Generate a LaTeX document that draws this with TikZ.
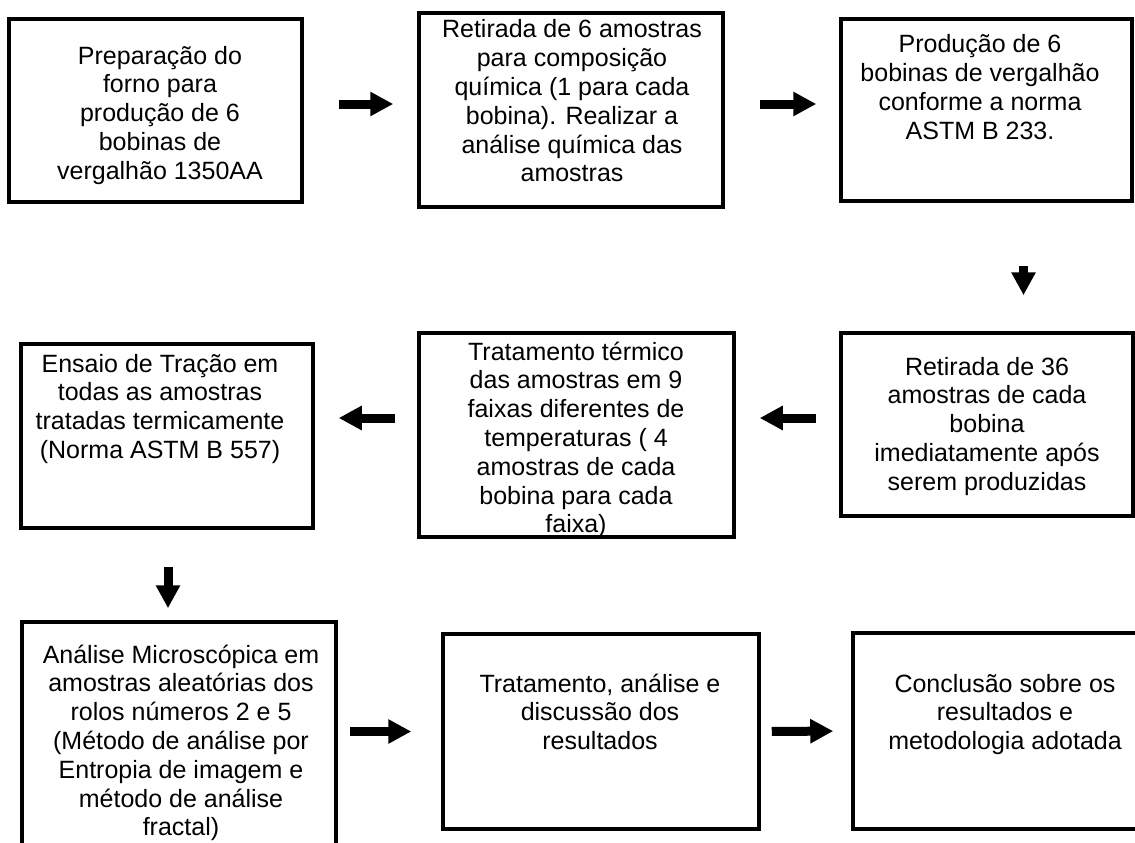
\documentclass[tikz,border=0pt]{standalone}
\usepackage{fontspec}
\setmainfont{Liberation Sans}
\usetikzlibrary{arrows.meta}
\newcommand{\tbx}[1]{\parbox[t]{330pt}{\centering #1}}
\begin{document}
\begin{tikzpicture}[x=1pt,y=-1pt,
  box/.style={draw, line width=3.5pt, rectangle, inner sep=0pt},
  txt/.style={anchor=base, inner sep=0pt, font=\fontsize{25}{28.8}\selectfont},
  arr/.style={line width=9pt, -{Triangle[length=23pt,width=23pt]}}]
\useasboundingbox (0,0) rectangle (1135,843);
\clip (0,0) rectangle (1135,843);
\fill[white] (0,0) rectangle (1135,843);

% boxes
\node[box, minimum width=293pt, minimum height=183pt] (b1) at (155.5,110.5) {};
\node[box, minimum width=304pt, minimum height=194pt] (b2) at (571,110) {};
\node[box, minimum width=291pt, minimum height=182pt] (b3) at (986.5,110) {};
\node[box, minimum width=292pt, minimum height=183pt] (b4) at (987,424.5) {};
\node[box, minimum width=292pt, minimum height=184pt] (b6) at (167,436) {};
\node[box, minimum width=314pt, minimum height=258pt] (b7) at (179,751) {};
\node[box, minimum width=316pt, minimum height=195pt] (b8) at (601,731.5) {};
\node[box, minimum width=307pt, minimum height=196pt] (b9) at (1006.5,731) {};

% texts
\node[txt] (t1) at (160,64) {\tbx{Preparação do\\forno para\\produção de 6\\bobinas de\\vergalhão 1350AA}};
\node[txt] (t2) at (572,38) {\tbx{Retirada de 6 amostras\\para composição\\química (1 para cada\\bobina). Realizar a\\análise química das\\amostras}};
\node[txt] (t3) at (980,53) {\tbx{Produção de 6\\bobinas de vergalhão\\conforme a norma\\ASTM B 233.}};
\node[txt] (t4) at (987,375) {\tbx{Retirada de 36\\amostras de cada\\bobina\\imediatamente após\\serem produzidas}};
\begin{scope}
\clip (419,333) rectangle (734,537);
\node[txt] (t5) at (576,360) {\tbx{Tratamento térmico\\das amostras em 9\\faixas diferentes de\\temperaturas ( 4\\amostras de cada\\bobina para cada\\faixa)}};
\end{scope}
\node[box, minimum width=315pt, minimum height=204pt] (b5) at (576.5,435) {};
\node[txt] (t6) at (160,372) {\tbx{Ensaio de Tração em\\todas as amostras\\tratadas termicamente\\(Norma ASTM B 557)}};
\node[txt] (t7) at (181,663) {\tbx{Análise Microscópica em\\amostras aleatórias dos\\rolos números 2 e 5\\(Método de análise por\\Entropia de imagem e\\método de análise\\fractal)}};
\node[txt] (t8) at (600,692) {\tbx{Tratamento, análise e\\discussão dos\\resultados}};
\node[txt] (t9) at (1005,692) {\tbx{Conclusão sobre os\\resultados e\\metodologia adotada}};

% arrows
\draw[arr, shorten <=35pt, shorten >=24pt] ([yshift=6.5pt]b1.east) -- ([yshift=6pt]b2.west);
\draw[arr, shorten <=35pt, shorten >=23pt] ([yshift=6pt]b2.east) -- ([yshift=6pt]b3.west);
\draw[arr, shorten <=63pt, shorten >=36pt] ([xshift=37pt]b3.south) -- ([xshift=36.5pt]b4.north);
\draw[arr, shorten <=23pt, shorten >=24pt] ([yshift=6.5pt]b4.west) -- ([yshift=17pt]b5.east);
\draw[arr, shorten <=22pt, shorten >=24pt] ([yshift=17pt]b5.west) -- ([yshift=18pt]b6.east);
\draw[arr, shorten <=37pt, shorten >=12pt] ([xshift=1pt]b6.south) -- ([xshift=-11pt]b7.north);
\draw[arr, shorten <=12pt, shorten >=30pt] (b7.east |- b8.west) -- (b8.west);
\draw[arr, shorten <=11pt, shorten >=18pt] (b8.east) -- (b9.west);
\end{tikzpicture}
\end{document}
